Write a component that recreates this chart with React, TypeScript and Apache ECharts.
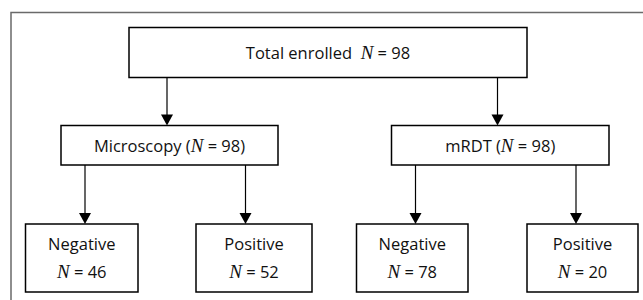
import React, { useEffect, useRef } from "react";
import * as echarts from "echarts";

// Data
const rootLabel = "Total enrolled";
const rootN = 98;
const methods = ["Microscopy", "mRDT"];
const methodN = [98, 98];
const outcomes = ["Negative", "Positive"];
const outcomeN = [
  [46, 52],
  [78, 20],
];

const FONT = "'Open Sans', sans-serif";
const SERIF = "'Liberation Serif', 'Times New Roman', serif";
const FS = 16.5;

function box(x: number, y: number, w: number, h: number) {
  return {
    type: "rect",
    shape: { x, y, width: w, height: h },
    style: { fill: "#fff", stroke: "#000", lineWidth: 1.5 },
    z: 2,
  };
}

function arrow(x: number, y1: number, y2: number) {
  return [
    {
      type: "line",
      shape: { x1: x, y1, x2: x, y2: y2 - 9 },
      style: { stroke: "#000", lineWidth: 1.2 },
      z: 1,
    },
    {
      type: "polygon",
      shape: { points: [[x - 6, y2 - 11], [x + 6, y2 - 11], [x, y2]] },
      style: { fill: "#000" },
      z: 1,
    },
  ];
}

const rich = {
  t: { fontFamily: FONT, fontSize: FS, fill: "#111" },
  n: { fontFamily: SERIF, fontStyle: "italic", fontSize: 19, fill: "#111" },
};

function label(x: number, y: number, text: string) {
  return {
    type: "text",
    x,
    y,
    z: 3,
    style: {
      text,
      rich,
      align: "center",
      verticalAlign: "middle",
      fontFamily: FONT,
      fontSize: FS,
      fill: "#111",
    },
  };
}

export default function App() {
  const ref = useRef<HTMLDivElement>(null);
  useEffect(() => {
    if (!ref.current) return;
    const chart = echarts.init(ref.current, null, { renderer: "svg" });

    const elements: any[] = [];
    // outer frame
    elements.push({
      type: "polyline",
      shape: { points: [[11, 300], [11, 12.5], [643, 12.5]] },
      style: { stroke: "#6a6a6a", lineWidth: 1.5, fill: null },
    });

    // root
    elements.push(box(129, 27.5, 398, 50));
    elements.push(label(328, 52, `{t|${rootLabel}  }{n|N}{t| = ${rootN}}`));

    const methodBoxes = [
      { x: 61, w: 217, ax: 167, cx: [85, 245.5] },
      { x: 391.5, w: 217.5, ax: 497.5, cx: [415.5, 576] },
    ];
    const outBoxes = [
      [
        { x: 25.5, w: 112.5 },
        { x: 196, w: 116 },
      ],
      [
        { x: 356.5, w: 111.5 },
        { x: 527, w: 111 },
      ],
    ];

    methods.forEach((m, i) => {
      const mb = methodBoxes[i];
      elements.push(...arrow(mb.ax, 77.5, 125.5));
      elements.push(box(mb.x, 125.5, mb.w, 39.5));
      elements.push(
        label(mb.x + mb.w / 2, 145.5, `{t|${m} (}{n|N}{t| = ${methodN[i]})}`)
      );
      outcomes.forEach((o, j) => {
        const ob = outBoxes[i][j];
        const ax = mb.cx[j];
        elements.push(...arrow(ax, 165, 224));
        elements.push(box(ob.x, 224, ob.w, 68));
        elements.push(label(ob.x + ob.w / 2, 243, `{t|${o}}`));
        elements.push(
          label(ob.x + ob.w / 2, 271.5, `{n|N}{t| = ${outcomeN[i][j]}}`)
        );
      });
    });

    chart.setOption({
      animation: false,
      backgroundColor: "#fff",
      graphic: { elements },
    });
    return () => chart.dispose();
  }, []);
  return (
    <div
      ref={ref}
      style={{ position: "fixed", left: 0, top: 0, width: 643, height: 300 }}
    />
  );
}
